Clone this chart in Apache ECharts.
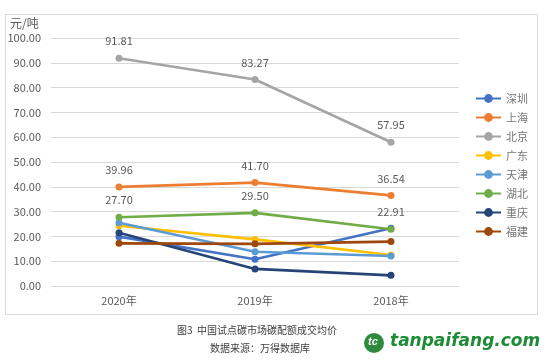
<!DOCTYPE html>
<html><head><meta charset="utf-8">
<script src="https://cdn.jsdelivr.net/npm/echarts@6/dist/echarts.min.js"></script>
<style>html,body{margin:0;padding:0;background:#fff}#c{width:556px;height:361px}</style>
</head><body><div id="c"></div>
<script>
var categories = ['2020年', '2019年', '2018年'];
var names = ['深圳', '上海', '北京', '广东', '天津', '湖北', '重庆', '福建'];
var shenzhen = [19.9, 10.8, 23.3];
var shanghai = [39.96, 41.70, 36.54];
var beijing = [91.81, 83.27, 57.95];
var guangdong = [24.3, 18.8, 12.5];
var tianjin = [25.5, 13.8, 12.1];
var hubei = [27.70, 29.50, 22.91];
var chongqing = [21.5, 6.9, 4.3];
var fujian = [17.2, 17.0, 17.9];
var yTicks = [0, 100, 10];
var colors = ['#4472C4', '#ED7D31', '#A5A5A5', '#FFC000', '#5B9BD5', '#70AD47', '#264478', '#9E480E'];
var values = [shenzhen, shanghai, beijing, guangdong, tianjin, hubei, chongqing, fujian];
var labeled = {'上海': true, '北京': true, '湖北': true};
var font = 'Microsoft YaHei, "Noto Sans CJK SC", sans-serif';

var chart = echarts.init(document.getElementById('c'));
var series = names.map(function (n, i) {
  return {
    name: n, type: 'line', data: values[i],
    symbol: 'circle', symbolSize: 7,
    z: labeled[n] ? 3 : 2,
    lineStyle: {width: 2.6, color: colors[i]},
    itemStyle: {color: colors[i]},
    label: {show: !!labeled[n], position: 'top', distance: 8, color: '#595959', fontSize: 11,
      fontFamily: font, formatter: function (p) { return p.value.toFixed(2); }}
  };
});
chart.setOption({
  animation: false,
  backgroundColor: '#fff',
  color: colors,
  grid: {left: 51, right: 97, top: 38, bottom: 75},
  xAxis: {type: 'category', data: categories, boundaryGap: true,
    axisLine: {show: false}, axisTick: {show: false},
    axisLabel: {color: '#595959', fontSize: 11, fontFamily: font, margin: 9}},
  yAxis: {type: 'value', min: yTicks[0], max: yTicks[1], interval: yTicks[2],
    axisLine: {show: false}, axisTick: {show: false},
    splitLine: {lineStyle: {color: '#d9d9d9', width: 1}},
    axisLabel: {color: '#595959', fontSize: 11, fontFamily: font, margin: 10,
      formatter: function (v) { return v.toFixed(2); }}},
  legend: {orient: 'vertical', left: 470, top: 88, itemGap: 8, itemWidth: 25, itemHeight: 11,
    textStyle: {color: '#767676', fontSize: 11, fontFamily: font}, data: names},
  series: series,
  graphic: [
    {type: 'rect', left: 3, top: 12, shape: {width: 532, height: 300}, style: {fill: 'none', stroke: '#d9d9d9', lineWidth: 1}, silent: true},
    {type: 'text', left: 10, top: 17, style: {text: '元/吨', fill: '#595959', font: '12px ' + font}},
    {type: 'text', left: 177, top: 325, style: {text: '图3  中国试点碳市场碳配额成交均价', fill: '#404040', font: '10px ' + font}},
    {type: 'text', left: 210, top: 343, style: {text: '数据来源：万得数据库', fill: '#404040', font: '10px ' + font}},
    {type: 'circle', shape: {cx: 374, cy: 343, r: 10}, style: {fill: '#2e8b3e'}},
    {type: 'text', left: 368, top: 336, style: {text: 'tc', fill: '#fff', font: 'bold italic 11px sans-serif'}},
    {type: 'text', left: 390, top: 333, style: {text: 'tanpaifang.com', fill: '#1e8c36', font: 'bold italic 17px "DejaVu Sans", sans-serif'}}
  ]
});
</script></body></html>
